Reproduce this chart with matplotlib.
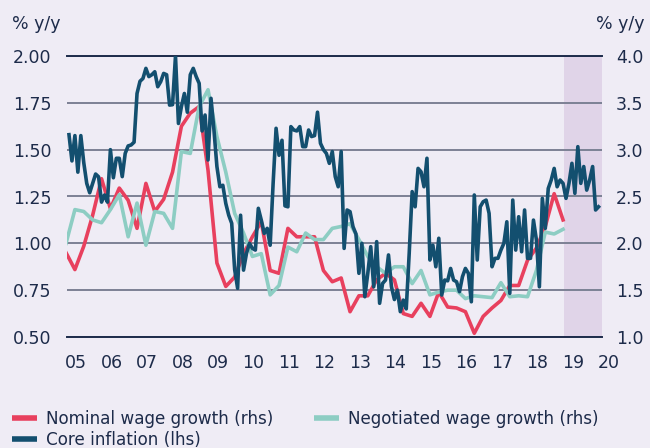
import numpy as np
import matplotlib
matplotlib.use("Agg")
import matplotlib.pyplot as plt
import matplotlib.transforms as mtransforms
from matplotlib.lines import Line2D

# core inflation, % y/y, monthly Jan 2005 - Dec 2019 (lhs)
core_inflation = [
    1.58, 1.44, 1.575, 1.38, 1.575, 1.43, 1.32, 1.27, 1.32, 1.37,
    1.355, 1.22, 1.258, 1.22, 1.50, 1.35, 1.454, 1.454, 1.356, 1.48,
    1.52, 1.525, 1.54, 1.80, 1.865, 1.88, 1.934, 1.89, 1.90, 1.916,
    1.836, 1.863, 1.907, 1.90, 1.738, 1.74, 2.00, 1.64, 1.73, 1.80,
    1.70, 1.90, 1.934, 1.89, 1.854, 1.60, 1.685, 1.445, 1.774, 1.605,
    1.41, 1.302, 1.31, 1.213, 1.15, 1.107, 0.86, 0.76, 1.15, 0.857,
    0.947, 1.0, 0.973, 0.964, 1.187, 1.124, 1.053, 1.08, 0.99, 1.32,
    1.614, 1.47, 1.55, 1.20, 1.195, 1.623, 1.605, 1.60, 1.623, 1.516,
    1.516, 1.605, 1.57, 1.575, 1.70, 1.534, 1.50, 1.48, 1.427, 1.49,
    1.356, 1.302, 1.49, 0.973, 1.178, 1.169, 1.089, 1.05, 0.84, 1.0,
    0.715, 0.84, 0.982, 0.768, 1.009, 0.68, 0.786, 0.804, 0.938, 0.768,
    0.70, 0.75, 0.635, 0.697, 0.65, 0.947, 1.276, 1.195, 1.40, 1.382,
    1.302, 1.454, 0.911, 0.99, 0.875, 1.027, 0.724, 0.804, 0.80, 0.866,
    0.804, 0.795, 0.742, 0.822, 0.866, 0.84, 0.688, 1.258, 0.911, 1.195,
    1.222, 1.231, 1.16, 0.875, 0.92, 0.92, 0.964, 1.0, 1.115, 0.733,
    1.231, 0.964, 1.142, 0.955, 1.178, 0.92, 0.92, 1.124, 1.018, 0.768,
    1.24, 1.08, 1.293, 1.338, 1.40, 1.302, 1.338, 1.32, 1.24, 1.32,
    1.427, 1.267, 1.516, 1.32, 1.41, 1.284, 1.338, 1.41, 1.178, 1.195,
]

# wage growth, % y/y, quarterly Q4 2004 - Q4 2018 (rhs)
nominal_wage = [
    1.90, 1.72, 1.97, 2.30, 2.69, 2.37, 2.59, 2.46, 2.16, 2.64,
    2.34, 2.47, 2.76, 3.25, 3.39, 3.46, 2.78, 1.79, 1.54, 1.64,
    1.89, 2.07, 2.23, 1.71, 1.68, 2.16, 2.07, 2.07, 2.07, 1.71,
    1.59, 1.63, 1.27, 1.44, 1.44, 1.61, 1.68, 1.61, 1.25, 1.22,
    1.36, 1.22, 1.48, 1.32, 1.31, 1.27, 1.04, 1.22, 1.31, 1.39,
    1.55, 1.55, 1.82, 1.95, 2.18, 2.53, 2.25,
]
negotiated_wage = [
    2.00, 2.36, 2.34, 2.25, 2.22, 2.36, 2.52, 2.07, 2.43, 1.98,
    2.34, 2.32, 2.16, 2.98, 2.96, 3.46, 3.64, 3.14, 2.76, 2.32,
    2.11, 1.86, 1.89, 1.45, 1.55, 1.96, 1.91, 2.11, 2.04, 2.04,
    2.16, 2.18, 2.21, 2.04, 1.86, 1.75, 1.68, 1.75, 1.75, 1.57,
    1.71, 1.45, 1.48, 1.50, 1.50, 1.41, 1.44, 1.43, 1.42, 1.58,
    1.43, 1.44, 1.43, 1.71, 2.12, 2.10, 2.15,
]

years = list(range(2005, 2021))
year_labels = [f"{y % 100:02d}" for y in years]
lhs_ticks = [0.50, 0.75, 1.00, 1.25, 1.50, 1.75, 2.00]
rhs_ticks = [1.0, 1.5, 2.0, 2.5, 3.0, 3.5, 4.0]
forecast_start = 2018.95

core_dates = 2005 + np.arange(len(core_inflation)) / 12
wage_dates = 2005 + (3 * np.arange(len(nominal_wage)) - 1) / 12

BG = "#efecf5"
SHADE = "#e0d4e8"
TEXT = "#1d2b4a"
GRID = "#7c8194"
CORE = "#134f6f"
RED = "#e8405e"
TEAL = "#8dcdc3"

plt.rcParams["font.family"] = "DejaVu Sans"

fig = plt.figure(figsize=(6.5, 4.48), dpi=100, facecolor=BG)
ax = fig.add_axes([67 / 650, 1 - 337 / 448, 535 / 650, 281 / 448])
ax2 = ax.twinx()
# core inflation drawn on top of the wage lines
ax.set_zorder(ax2.get_zorder() + 1)
ax.patch.set_visible(False)
ax2.patch.set_facecolor(BG)

xlim = (2004.944, 2020.014)
ax.set_xlim(*xlim)
ax.set_ylim(0.5, 2.0)
ax2.set_ylim(1.0, 4.0)

ax2.axvspan(forecast_start, xlim[1], color=SHADE, lw=0, zorder=0)
ax2.set_yticks(rhs_ticks)
ax2.yaxis.grid(True, color=GRID, lw=1.4)
ax2.set_axisbelow(True)

ax2.plot(wage_dates, nominal_wage, color=RED, lw=2.6, zorder=2)
ax2.plot(wage_dates, negotiated_wage, color=TEAL, lw=2.6, zorder=3)
ax.plot(core_dates, core_inflation, color=CORE, lw=2.6, zorder=4)

for a in (ax, ax2):
    for s in a.spines.values():
        s.set_visible(False)
for s in ("top", "bottom"):
    ax2.spines[s].set_visible(True)
    ax2.spines[s].set_color(TEXT)
    ax2.spines[s].set_linewidth(1.4)

ax.set_yticks(lhs_ticks)
ax.set_yticklabels([f"{v:.2f}" for v in lhs_ticks])
ax2.set_yticklabels([f"{v:.1f}" for v in rhs_ticks])
ax.set_xticks(years)
ax.set_xticklabels(year_labels)

ax.tick_params(axis="y", length=0, pad=11, labelsize=12.5, labelcolor=TEXT)
ax2.tick_params(axis="y", length=0, pad=10, labelsize=12.5, labelcolor=TEXT)
ax.tick_params(axis="x", length=0, pad=12, labelsize=12.5, labelcolor=TEXT)
ax2.tick_params(axis="x", length=0)
shift = mtransforms.ScaledTranslation(7 / 100, 0, fig.dpi_scale_trans)
for lbl in ax.get_xticklabels():
    lbl.set_transform(lbl.get_transform() + shift)

fig.text(12 / 650, 1 - 24 / 448, "% y/y", color=TEXT, fontsize=12.5, va="center", ha="left")
fig.text(645 / 650, 1 - 24 / 448, "% y/y", color=TEXT, fontsize=12.5, va="center", ha="right")

handles = [
    Line2D([], [], color=RED, lw=4, solid_capstyle="butt"),
    Line2D([], [], color=CORE, lw=4, solid_capstyle="butt"),
    Line2D([], [], color=TEAL, lw=4, solid_capstyle="butt"),
]
labels = ["Nominal wage growth (rhs)", "Core inflation (lhs)", "Negotiated wage growth (rhs)"]
fig.legend(handles, labels, loc="upper left", bbox_to_anchor=(12 / 650, 1 - 410 / 448),
           ncol=2, frameon=False, labelcolor=TEXT,
           prop={"family": "DejaVu Sans", "size": 12.1},
           handlelength=1.5, handletextpad=0.5, columnspacing=2.45,
           labelspacing=0.2, borderpad=0, borderaxespad=0)

fig.savefig("out.png", dpi=100, facecolor=BG)
